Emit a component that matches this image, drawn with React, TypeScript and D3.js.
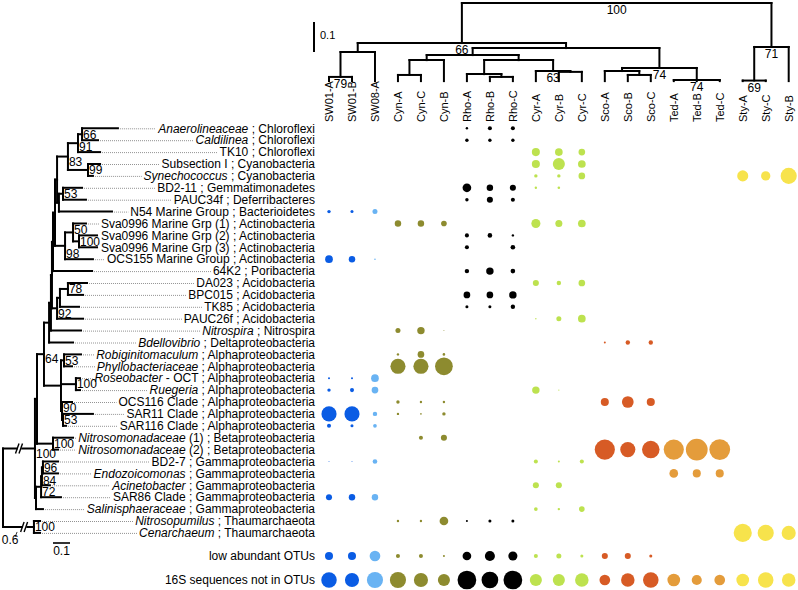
import React, { useEffect, useRef } from "react";
import * as d3 from "d3";

// ---------- DATA ----------
const columns = ["SW01-A","SW01-B","SW08-A","Cyn-A","Cyn-C","Cyn-B","Rho-A","Rho-B","Rho-C","Cyr-A","Cyr-B","Cyr-C","Sco-A","Sco-B","Sco-C","Ted-A","Ted-B","Ted-C","Sty-A","Sty-C","Sty-B"];
const columnGroups = ["SW01","SW01","SW08","Cyn","Cyn","Cyn","Rho","Rho","Rho","Cyr","Cyr","Cyr","Sco","Sco","Sco","Ted","Ted","Ted","Sty","Sty","Sty"];

const taxa = [
  "*Anaerolineaceae*", "*Caldilinea*", "TK10", "Subsection I", "*Synechococcus*",
  "BD2-11", "PAUC34f", "N54 Marine Group", "Sva0996 Marine Grp (1)", "Sva0996 Marine Grp (2)",
  "Sva0996 Marine Grp (3)", "OCS155 Marine Group", "64K2", "DA023", "BPC015",
  "TK85", "PAUC26f", "*Nitrospira*", "*Bdellovibrio*", "*Robiginitomaculum*",
  "*Phyllobacteriaceae*", "*Roseobacter* - OCT", "*Ruegeria*", "OCS116 Clade", "SAR11 Clade",
  "SAR116 Clade", "*Nitrosomonadaceae* (1)", "*Nitrosomonadaceae* (2)", "BD2-7", "*Endozoicomonas*",
  "*Acinetobacter*", "SAR86 Clade", "*Salinisphaeraceae*", "*Nitrosopumilus*", "*Cenarchaeum*"
];
const phyla = [
  "Chloroflexi","Chloroflexi","Chloroflexi","Cyanobacteria","Cyanobacteria",
  "Gemmatimonadetes","Deferribacteres","Bacterioidetes","Actinobacteria","Actinobacteria",
  "Actinobacteria","Actinobacteria","Poribacteria","Acidobacteria","Acidobacteria",
  "Acidobacteria","Acidobacteria","Nitrospira","Deltaproteobacteria","Alphaproteobacteria",
  "Alphaproteobacteria","Alphaproteobacteria","Alphaproteobacteria","Alphaproteobacteria","Alphaproteobacteria",
  "Alphaproteobacteria","Betaproteobacteria","Betaproteobacteria","Gammaproteobacteria","Gammaproteobacteria",
  "Gammaproteobacteria","Gammaproteobacteria","Gammaproteobacteria","Thaumarchaeota","Thaumarchaeota"
];

// relative abundance (%) per taxon (rows) and sample (columns)
const abundance = [
  [0,0,0, 0,0,0, 0.6,1.7,1.7, 0,0,0, 0,0,0, 0,0,0, 0,0,0],
  [0,0,0, 0,0,0, 1.2,1.2,1.2, 0,0,0, 0,0,0, 0,0,0, 0,0,0],
  [0,0,0, 0,0,0, 0,0,0, 6.7,6.1,4.6, 0,0,0, 0,0,0, 0,0,0],
  [0,0,0, 0,0,0, 0,0,0, 6.7,15.1,6.1, 0,0,0, 0,0,0, 0,0,0],
  [0,0,0, 0,0,0, 0,0,0, 1.2,1.2,4.6, 0,0,0, 0,0,0, 12.7,8.9,26.9],
  [0,0,0, 0,0,0, 7.8,4.3,3.8, 0.6,0.7,0, 0,0,0, 0,0,0, 0,0,0],
  [0,0,0, 0,0,0, 1.2,3.8,1.7, 0,0,0, 0,0,0, 0,0,0, 0,0,0],
  [1.2,0.95,2.6, 0,0,0, 0,0,0, 0,0,0, 0,0,0, 0,0,0, 0,0,0],
  [0,0,0, 4.3,4.3,3.3, 0,0,0, 8.5,5.1,6.1, 0,0,0, 0,0,0, 0,0,0],
  [0,0,0, 0,0,0, 1.7,2.2,0.6, 0,0,0, 0,0,0, 0,0,0, 0,0,0],
  [0,0,0, 0,0,0, 1.7,0,2.2, 0,0,0, 0,0,0, 0,0,0, 0,0,0],
  [6.1,4.3,0.27, 0,0,0, 0,0,0, 0,0,0, 0,0,0, 0,0,0, 0,0,0],
  [0,0,0, 0,0,0, 2.0,5.7,2.2, 0,0,0, 0,0,0, 0,0,0, 0,0,0],
  [0,0,0, 0,0,0, 0,0,0, 3.8,2.0,4.6, 0,0,0, 0,0,0, 0,0,0],
  [0,0,0, 0,0,0, 4.6,4.6,5.7, 0,0,0, 0,0,0, 0,0,0, 0,0,0],
  [0,0,0, 0,0,0, 0.95,0.95,2.0, 0,0,0, 0,0,0, 0,0,0, 0,0,0],
  [0,0,0, 0,0,0, 0,0,0, 0.2,2.6,6.1, 0,0,0, 0,0,0, 0,0,0],
  [0,0,0, 2.6,5.7,0.1, 0,0,0, 0,0,0, 0,0,0, 0,0,0, 0,0,0],
  [0,0,0, 0,0,0, 0,0,0, 0,0,0, 0.42,2.0,2.0, 0,0,0, 0,0,0],
  [0,0,0, 0.6,4.6,0.7, 0,0,0, 0,0,0, 0,0,0, 0,0,0, 0,0,0],
  [0,0,0, 23.6,23.6,32.5, 0,0,0, 0,0,0, 0,0,0, 0,0,0, 0,0,0],
  [0.42,0.42,6.1, 0,0,0, 0,0,0, 0,0,0, 0,0,0, 0,0,0, 0,0,0],
  [1.2,1.7,4.6, 0,0,0, 0,0,0, 5.7,0.15,0, 0,0,0, 0,0,0, 0,0,0],
  [0,0,0, 1.2,0.6,0.6, 0,0,0, 0,0,0, 6.7,14.1,6.7, 0,0,0, 0,0,0],
  [23.6,23.6,2.0, 0.6,0.27,1.2, 0,0,0, 0,0,0, 0,0,0, 0,0,0, 0,0,0],
  [1.7,0.95,1.4, 0,0,0, 0,0,0, 0,0,0, 0,0,0, 0,0,0, 0,0,0],
  [0,0,0, 0,1.7,3.8, 0,0,0, 0,0,0, 0,0,0, 0,0,0, 0,0,0],
  [0,0,0, 0,0,0, 0,0,0, 0,0,0, 42,23.6,31.8, 42,49,44.6, 0,0,0],
  [0.1,0.1,2.2, 0,0,0, 0,0,0, 1.7,0.42,1.7, 0,0,0, 0,0,0, 0,0,0],
  [0,0,0, 0,0,0, 0,0,0, 0,0,0, 0,0,0, 7.8,6.7,6.7, 0,0,0],
  [0,0,0, 0,0,0, 0,0,0, 3.8,3.8,0, 0,0,0, 0,0,0, 0,0,0],
  [3.8,4.3,4.3, 0,0,0, 0,0,0, 0,0,0, 0,0,0, 0,0,0, 0,0,0],
  [0,0,0, 0,0,0, 0,0,0, 1.4,0.6,3.3, 0,0,0, 0,0,0, 0,0,0],
  [0,0,0, 0.6,0.6,7.8, 0.42,0.95,0.95, 0,0,0, 0,0,0, 0,0,0, 0,0,0],
  [0,0,0, 0,0,0, 0,0,0, 0,0,0, 0,0,0, 0,0,0, 34,26.9,20.6]
];
const lowAbundantOTUs = [6.7,6.7,11.8, 1.7,1.7,0.42, 7.8,10.5,8.5, 1.7,2.6,0.95, 3.8,3.8,0.95, 0,0,0, 0,0,0];
const notInOTUs = [24.9,20.6,26.9, 26.9,20.6,15.1, 36.3,28.9,36.3, 15.1,15.1,18.9, 11.8,18.9,24.9, 16.7,10.5,11.8, 16.7,24.9,18.9];
const extraRowLabels = ["low abundant OTUs", "16S sequences not in OTUs"];

// sample dendrogram (d = distance from root, leaf = column index)
const topTree = { d: 0, b: "100", children: [
  { d: 0.143, b: "66", children: [
    { d: 0.175, children: [ { d: 0.264, b: "79", children: [{ leaf: 0 }, { leaf: 1 }] }, { leaf: 2 } ] },
    { d: 0.161, children: [
      { d: 0.186, children: [
        { d: 0.204, children: [ { d: 0.257, children: [{ leaf: 3 }, { leaf: 4 }] }, { leaf: 5 } ] },
        { d: 0.204, children: [
          { d: 0.254, children: [ { leaf: 6 }, { d: 0.264, children: [{ leaf: 7 }, { leaf: 8 }] } ] },
          { d: 0.243, b: "63", children: [ { leaf: 9 }, { d: 0.246, children: [{ leaf: 10 }, { leaf: 11 }] } ] }
        ] }
      ] },
      { d: 0.232, b: "74", children: [
        { d: 0.243, children: [ { leaf: 12 }, { d: 0.257, children: [{ leaf: 13 }, { leaf: 14 }] } ] },
        { d: 0.275, b: "74", children: [{ leaf: 15 }, { leaf: 16 }, { leaf: 17 }] }
      ] }
    ] }
  ] },
  { d: 0.157, b: "71", children: [ { d: 0.277, b: "69", children: [{ leaf: 18 }, { leaf: 19 }] }, { leaf: 20 } ] }
] };
const topLeafDepth = 0.279;

// taxa tree (d = drawn distance from root, leaf = row index, brk = position of branch break)
const leftTree = { d: 0, children: [
  { d: 0.188, b: "100", brk: 0.1, children: [
    { d: 0.2, children: [
      { d: 0.241, b: "64", children: [
        { d: 0.271, children: [
          { d: 0.282, children: [
            { d: 0.288, children: [
              { d: 0.294, children: [
                { d: 0.306, children: [
                  { d: 0.318, children: [
                    { d: 0.382, b: "83", children: [
                      { d: 0.441, b: "91", children: [
                        { d: 0.465, b: "66", children: [ { leaf: 0, d: 0.676 }, { leaf: 1, d: 0.559 } ] },
                        { leaf: 2, d: 0.571 }
                      ] },
                      { d: 0.5, b: "99", children: [ { leaf: 3, d: 0.571 }, { leaf: 4, d: 0.529 } ] }
                    ] },
                    { d: 0.329, children: [
                      { d: 0.353, b: "53", children: [ { leaf: 5, d: 0.465 }, { leaf: 6, d: 0.488 } ] },
                      { leaf: 7, d: 0.641 }
                    ] }
                  ] },
                  { d: 0.365, b: "98", children: [
                    { d: 0.412, b: "50", children: [
                      { leaf: 8, d: 0.488 },
                      { d: 0.447, b: "100", children: [ { leaf: 9, d: 0.553 }, { leaf: 10, d: 0.553 } ] }
                    ] },
                    { leaf: 11, d: 0.529 }
                  ] }
                ] },
                { leaf: 12, d: 0.524 }
              ] },
              { d: 0.318, b: "92", children: [
                { d: 0.335, children: [
                  { d: 0.382, b: "78", children: [ { leaf: 13, d: 0.494 }, { leaf: 14, d: 0.471 } ] },
                  { leaf: 15, d: 0.447 }
                ] },
                { leaf: 16, d: 0.471 }
              ] }
            ] },
            { leaf: 17, d: 0.459 }
          ] },
          { leaf: 18, d: 0.412 }
        ] },
        { d: 0.341, children: [
          { d: 0.359, b: "53", children: [ { leaf: 19, d: 0.459 }, { leaf: 20, d: 0.406 } ] },
          { d: 0.429, b: "100", children: [ { leaf: 21, d: 0.453 }, { leaf: 22, d: 0.453 } ] },
          { d: 0.347, b: "90", children: [
            { leaf: 23, d: 0.406 },
            { d: 0.353, b: "53", children: [ { leaf: 24, d: 0.529 }, { leaf: 25, d: 0.371 } ] }
          ] }
        ] }
      ] },
      { d: 0.294, b: "100", children: [ { leaf: 26, d: 0.412 }, { leaf: 27, d: 0.324 } ] }
    ] },
    { d: 0.194, children: [
      { d: 0.224, b: "72", children: [
        { d: 0.229, b: "84", children: [
          { d: 0.235, b: "96", children: [ { leaf: 28, d: 0.324 }, { leaf: 29, d: 0.324 } ] },
          { leaf: 30, d: 0.276 }
        ] },
        { leaf: 31, d: 0.341 }
      ] },
      { leaf: 32, d: 0.235 }
    ] }
  ] },
  { d: 0.182, b: "100", brk: 0.13, children: [ { leaf: 33, d: 0.218 }, { leaf: 34, d: 0.218 } ] }
] };

// ---------- STYLE ----------
const groupColors: Record<string, string> = {
  SW01: "#0a5ce4", SW08: "#69b3f3", Cyn: "#8d8b2f", Rho: "#000000",
  Cyr: "#bde24f", Sco: "#d75b25", Ted: "#e49c3b", Sty: "#f7e34c"
};
const FONT = "Arial, 'Liberation Sans', Helvetica, sans-serif";

export default function App() {
  const ref = useRef<SVGSVGElement>(null);

  useEffect(() => {
    const svg = d3.select(ref.current as SVGSVGElement);
    svg.selectAll("*").remove();
    const g = svg.append("g").attr("font-family", FONT);

    const xCol = d3.scalePoint<number>().domain(d3.range(columns.length)).range([329, 788.7]);
    const yRow = d3.scalePoint<number>().domain(d3.range(taxa.length)).range([128.3, 532.9]);
    const rScale = d3.scaleSqrt().domain([0, 50]).range([0, 11]);
    const yTop = d3.scaleLinear().domain([0, 0.1]).range([3, 31]);
    const xLeft = d3.scaleLinear().domain([0, 0.1]).range([3, 20]);
    const labelRight = 315;

    const line = (x1: number, y1: number, x2: number, y2: number, w = 2, color = "#000") =>
      g.append("line").attr("x1", x1).attr("y1", y1).attr("x2", x2).attr("y2", y2)
        .attr("stroke", color).attr("stroke-width", w).attr("stroke-linecap", "square");

    // ---------- top dendrogram ----------
    const troot: any = d3.hierarchy(topTree as any);
    troot.eachAfter((n: any) => {
      if (!n.children) n.px = xCol(n.data.leaf) as number;
      else n.px = (n.children[0].px + n.children[n.children.length - 1].px) / 2;
      n.py = yTop(n.data.d ?? topLeafDepth);
    });
    troot.each((n: any) => {
      if (!n.children) return;
      const kids = n.children;
      line(kids[0].px, n.py, kids[kids.length - 1].px, n.py);
      kids.forEach((c: any) => line(c.px, n.py, c.px, c.py));
    });
    troot.each((n: any) => {
      if (!n.data.b) return;
      g.append("text").attr("x", n.px).attr("y", n.py + 7).attr("dy", "0.35em")
        .attr("text-anchor", "middle").attr("font-size", 12).text(n.data.b);
    });
    // scale bar (top)
    const sbY = 23;
    line(314, sbY, 314, sbY + (yTop(0.1) - yTop(0)), 2);
    g.append("text").attr("x", 320).attr("y", sbY + 12).attr("dy", "0.35em")
      .attr("font-size", 11).text("0.1");

    // column labels
    columns.forEach((c, j) => {
      g.append("text")
        .attr("transform", `translate(${xCol(j)},122) rotate(-90)`)
        .attr("dy", "0.35em").attr("text-anchor", "start").attr("font-size", 11)
        .text(c);
    });

    // ---------- left taxa tree ----------
    const lroot: any = d3.hierarchy(leftTree as any);
    lroot.eachAfter((n: any) => {
      if (!n.children) n.py = yRow(n.data.leaf) as number;
      else n.py = (n.children[0].py + n.children[n.children.length - 1].py) / 2;
      n.px = xLeft(n.data.d);
    });
    lroot.each((n: any) => {
      if (!n.children) return;
      const kids = n.children;
      line(n.px, kids[0].py, n.px, kids[kids.length - 1].py);
      kids.forEach((c: any) => line(n.px, c.py, c.px, c.py));
    });
    // branch breaks
    lroot.each((n: any) => {
      if (n.data.brk == null) return;
      const bx = xLeft(n.data.brk);
      const by = n.py;
      g.append("rect").attr("x", bx - 2.2).attr("y", by - 2).attr("width", 3.4).attr("height", 4).attr("fill", "#fff");
      line(bx - 4.5, by + 5, bx - 1, by - 5, 1.4).attr("stroke-linecap", "butt");
      line(bx - 1, by + 5, bx + 2.5, by - 5, 1.4).attr("stroke-linecap", "butt");
    });
    // 0.6 annotation at the archaeal break
    lroot.each((n: any) => {
      if (n.data.brk == null || n.data.d > 0.185) return;
      const bx = xLeft(n.data.brk);
      line(bx - 10, n.py + 10, bx - 8, n.py + 5, 0.8).attr("stroke-linecap", "butt");
      g.append("text").attr("x", bx - 15).attr("y", n.py + 13).attr("dy", "0.35em")
        .attr("text-anchor", "middle").attr("font-size", 12).text("0.6");
    });
    // bootstrap values: placed in the gap next to a tip branch when possible
    lroot.each((n: any) => {
      if (!n.data.b) return;
      const kids = n.children;
      const first = kids[0], last = kids[kids.length - 1];
      let ly;
      if (!first.children) ly = first.py + 6;
      else if (!last.children) ly = last.py - 5;
      else ly = n.py + 5;
      g.append("text").attr("x", n.px + 1).attr("y", ly).attr("dy", "0.35em")
        .attr("text-anchor", "start").attr("font-size", 12).text(n.data.b);
    });
    // scale bar (left)
    const sbx = 53, sby = 543;
    line(sbx, sby, sbx + (xLeft(0.1) - xLeft(0)), sby, 1.6).attr("stroke-linecap", "butt");
    g.append("text").attr("x", sbx + (xLeft(0.1) - xLeft(0)) / 2).attr("y", sby + 8).attr("dy", "0.35em")
      .attr("text-anchor", "middle").attr("font-size", 12).text("0.1");

    // ---------- row labels with dotted leaders ----------
    const tipX: number[] = [];
    lroot.leaves().forEach((l: any) => { tipX[l.data.leaf] = l.px; });
    taxa.forEach((t, i) => {
      const y = yRow(i) as number;
      const txt = g.append("text").attr("x", labelRight).attr("y", y).attr("dy", "0.35em")
        .attr("text-anchor", "end").attr("font-size", 12).style("white-space", "pre");
      t.split("*").forEach((part, k) => {
        if (!part) return;
        txt.append("tspan").attr("font-style", k % 2 === 1 ? "italic" : "normal").text(part);
      });
      txt.append("tspan").text(" ; " + phyla[i]);
      const bb = (txt.node() as SVGTextElement).getBBox();
      g.insert("line", ":first-child")
        .attr("x1", tipX[i] + 2).attr("x2", bb.x - 2).attr("y1", y + 0.5).attr("y2", y + 0.5)
        .attr("stroke", "#555").attr("stroke-width", 0.8).attr("stroke-dasharray", "0.8 1.2");
    });

    // ---------- bubbles ----------
    abundance.forEach((row, i) => {
      row.forEach((v, j) => {
        if (v <= 0) return;
        g.append("circle").attr("cx", xCol(j) as number).attr("cy", yRow(i) as number)
          .attr("r", rScale(v)).attr("fill", groupColors[columnGroups[j]]);
      });
    });
    const extraY = [556, 580];
    [lowAbundantOTUs, notInOTUs].forEach((row, k) => {
      g.append("text").attr("x", labelRight).attr("y", extraY[k]).attr("dy", "0.35em")
        .attr("text-anchor", "end").attr("font-size", 12).text(extraRowLabels[k]);
      row.forEach((v, j) => {
        if (v <= 0) return;
        g.append("circle").attr("cx", xCol(j) as number).attr("cy", extraY[k])
          .attr("r", rScale(v)).attr("fill", groupColors[columnGroups[j]]);
      });
    });
  }, []);

  return (
    <svg ref={ref} width={798} height={590}
      style={{ position: "absolute", left: 0, top: 0, background: "#fff" }} />
  );
}
